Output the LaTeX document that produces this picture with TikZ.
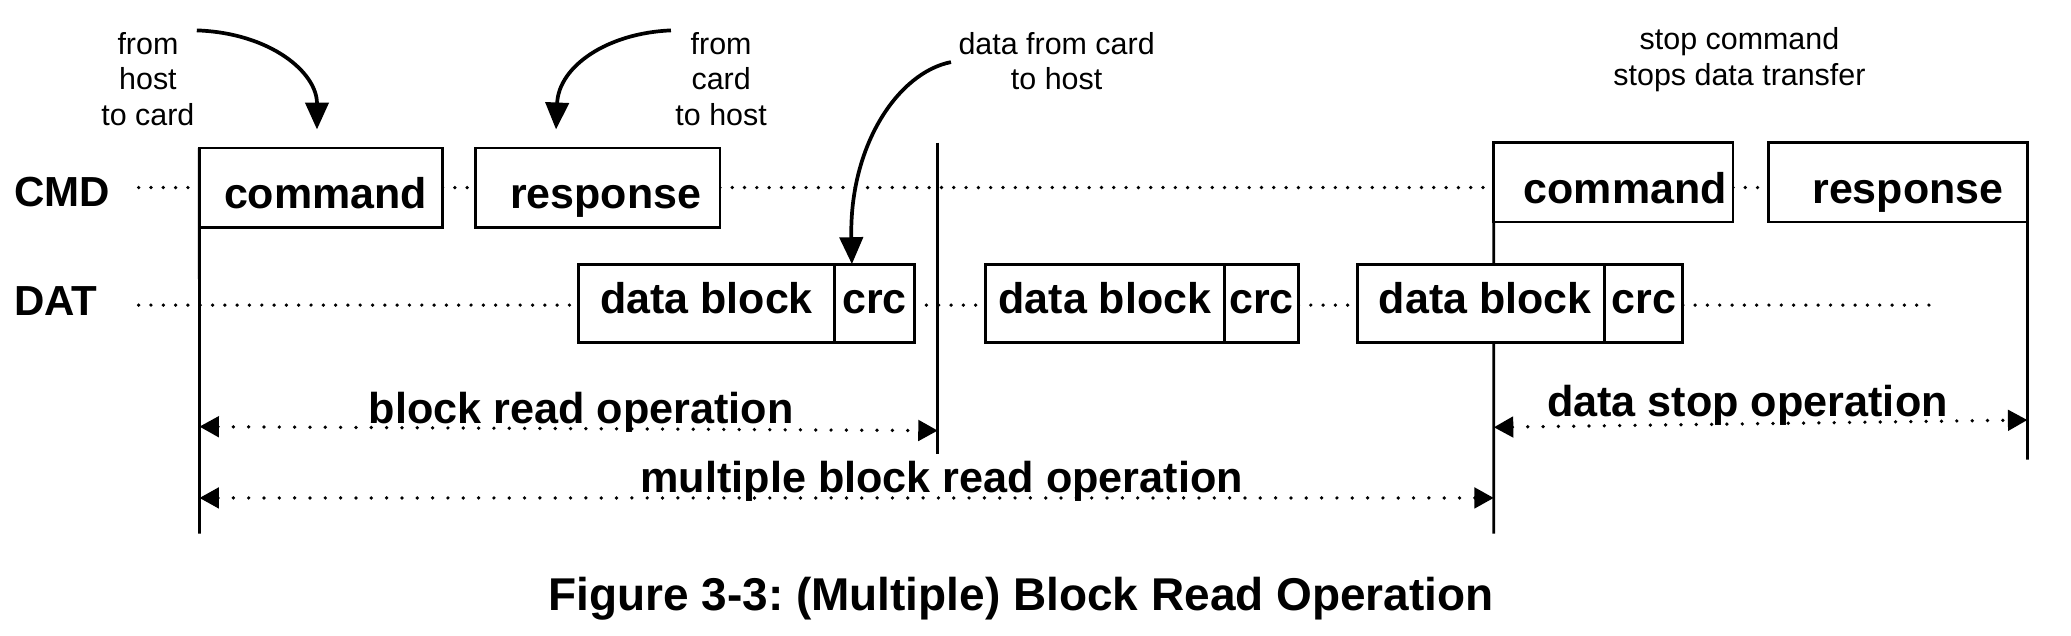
\documentclass[tikz,border=0pt]{standalone}
\usepackage{fontspec}
\setmainfont{Liberation Sans}
\usetikzlibrary{arrows.meta,backgrounds}
\frenchspacing
\begin{document}
\begin{tikzpicture}[x=0.01cm,y=-0.01cm,
  box/.style={draw, fill=white, line width=0.6pt, inner sep=0pt, outer sep=0pt, font=\fontsize{9.25}{11}\selectfont\bfseries},
  cmdbox/.style={box, minimum height=0.6cm, text height=9.1pt, text depth=0pt},
  datbox/.style={box, minimum height=0.59cm, text height=4.3pt, text depth=0pt},
  textshift/.style={execute at begin node={\hspace*{#1}}},
  rowdots/.style={line width=0.8pt, line cap=round, dash pattern=on 0pt off 2.65pt},
  spandots/.style={line width=0.8pt, line cap=round, dash pattern=on 0pt off 3.3pt, {Triangle[length=4.2pt,width=4.4pt]}-{Triangle[length=4.2pt,width=4.4pt]}},
  edge/.style={line width=0.6pt},
  note/.style={font=\fontsize{6.55}{7.6}\selectfont, align=center, inner sep=0pt},
  curvearrow/.style={line width=0.8pt, -{Triangle[length=5.8pt,width=5pt]}},
  oplabel/.style={font=\fontsize{9.3}{11}\selectfont\bfseries, anchor=base, inner sep=0pt},
  rowlabel/.style={font=\fontsize{9.05}{11}\selectfont\bfseries, anchor=base west, inner sep=0pt},
  captionf/.style={font=\fontsize{9.9}{12}\selectfont\bfseries, anchor=base, inner sep=0pt}]
\useasboundingbox (0,0) rectangle (1568,481.5);

% row labels
\node[rowlabel] (cmdl) at (10,156.5) {CMD};
\node[rowlabel] (datl) at (10,238.5) {DAT};

% CMD boxes
\node[cmdbox, minimum width=1.84cm, textshift=0.07cm] (cmd1) at (243,142) {command};
\node[cmdbox, minimum width=1.85cm, textshift=0.12cm] (resp1) at (452.5,142) {response};
\node[cmdbox, minimum width=1.81cm, textshift=0.18cm] (cmd2) at (1221.5,138) {command};
\node[cmdbox, minimum width=1.96cm, textshift=0.15cm] (resp2) at (1437,138) {response};

% DAT boxes
\node[datbox, minimum width=1.94cm] (d1) at (535,229.5) {data block};
\node[datbox, minimum width=0.60cm, anchor=west] (c1) at (d1.east) {crc};
\node[datbox, minimum width=1.81cm] (d2) at (836.5,229.5) {data block};
\node[datbox, minimum width=0.56cm, anchor=west] (c2) at (d2.east) {crc};
\node[datbox, minimum width=1.87cm, textshift=0.06cm] (d3) at (1121.5,229.5) {data block};
\node[datbox, minimum width=0.59cm, anchor=west] (c3) at (d3.east) {crc};

% coordinates
\coordinate (cmdy) at (105,142);
\coordinate (daty) at (105,231);
\coordinate (datend) at (1462,231);
\coordinate (l1b) at (151,404);
\coordinate (l2t) at (710,108);
\coordinate (l2b) at (710,344);
\coordinate (l3b) at (1131,404);
\coordinate (l4b) at (1535,348);

\begin{pgfonlayer}{background}
% dotted CMD line
\draw[rowdots] (cmdy) -- (cmdy -| cmd1.west);
\draw[rowdots] (cmd1.east) -- (resp1.west);
\draw[rowdots] (resp1.east) -- (resp1.east -| cmd2.west);
\draw[rowdots] (cmdy -| cmd2.east) -- (cmdy -| resp2.west);
% dotted DAT line
\draw[rowdots] (daty) -- (daty -| d1.west);
\draw[rowdots] (daty -| c1.east) -- (daty -| d2.west);
\draw[rowdots] (daty -| c2.east) -- (daty -| d3.west);
\draw[rowdots] (daty -| c3.east) -- (datend);
% vertical lines
\draw[edge] (cmd1.north west) -- (l1b);
\draw[edge] (l2t) -- (l2b);
\draw[edge] (cmd2.north west) -- (l3b);
\draw[edge] (resp2.north east) -- (l4b);
\end{pgfonlayer}

% span arrows
\coordinate (br1) at (151,323);
\coordinate (br2) at (710,326);
\coordinate (mb1) at (151,377);
\coordinate (mb2) at (1131,377);
\coordinate (ds1) at (1131,323.5);
\coordinate (ds2) at (1535,318);
\draw[spandots] (br1) -- (br2);
\draw[spandots] (mb1) -- (mb2);
\draw[spandots] (ds1) -- (ds2);
\node[oplabel] (brl) at (440,320.5) {block read operation};
\node[oplabel] (mbl) at (713,373) {multiple block read operation};
\node[oplabel] (dsl) at (1323,315) {data stop operation};

% annotations
\node[note] (n1) at (112,59.9) {from\\host\\to card};
\node[note] (n2) at (546,59.9) {from\\card\\to host};
\node[note] (n3) at (800,46.4) {data from card\\to host};
\node[note] (n4) at (1317,45.25) {stop command\\stops data transfer};

\coordinate (a1s) at (149,23);
\coordinate (a1e) at (240,98);
\coordinate (a2s) at (508,23);
\coordinate (a2e) at (421,98);
\coordinate (a3s) at (720,47);
\coordinate (a3e) at (645,200);
\draw[curvearrow] (a1s) .. controls (205,25) and (240,55) .. (a1e);
\draw[curvearrow] (a2s) .. controls (460,25) and (423,50) .. (a2e);
\draw[curvearrow] (a3s) .. controls (680,55) and (643,110) .. (a3e);

% caption
\node[captionf] (cap) at (773,462) {Figure 3-3: (Multiple) Block Read Operation};
\end{tikzpicture}
\end{document}
